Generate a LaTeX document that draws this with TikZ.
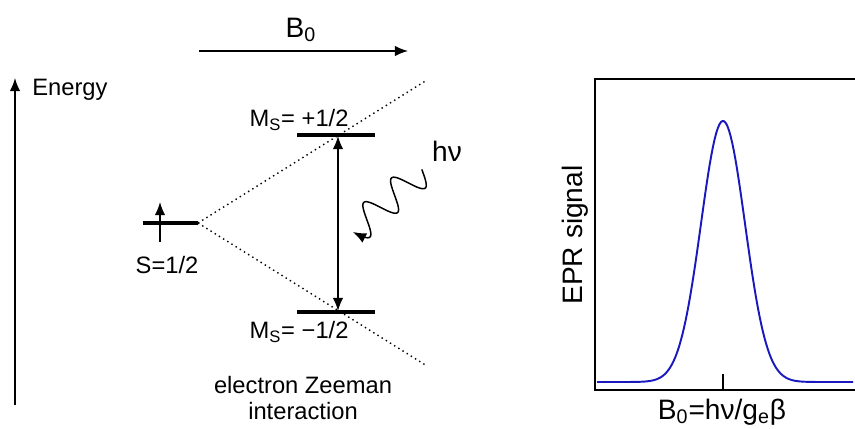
\documentclass[tikz,border=0pt]{standalone}
\usepackage{fontspec}
\setmainfont{Liberation Sans}
\usetikzlibrary{arrows.meta}
\definecolor{eprblue}{RGB}{25,25,190}

\begin{document}
\begin{tikzpicture}[x=0.02cm,y=-0.02cm,>={Latex[length=7.5pt,width=6pt]},
      lvl/.style={line width=2pt},
      ax/.style={line width=0.85pt},
      lbl/.style={inner sep=0pt,font=\fontsize{13.5}{15}\selectfont},
      big/.style={inner sep=0pt,font=\fontsize{16}{18}\selectfont}]
    \useasboundingbox (0,0) rectangle (855,429);
    % --- energy axis and field ---
    \coordinate (ebot) at (15,405); \coordinate (etop) at (15,78);
    \draw[ax,->] (ebot) -- (etop);
    \node[lbl,anchor=west] (energy) at (32,90) {Energy};
    \coordinate (bl) at (199,51); \coordinate (br) at (408,51);
    \draw[ax,->] (bl) -- (br);
    \node[big] (bzero) at (301,30) {B\textsubscript{0}};
    % --- zero field level ---
    \coordinate (s0) at (143,223); \coordinate (split) at (198,223);
    \draw[lvl] (s0) -- (split);
    \coordinate (spb) at (160,242); \coordinate (spt) at (160,202);
    \draw[ax,->] (spb) -- (spt);
    \node[lbl] (spin) at (167,265) {S=1/2};
    % --- Zeeman levels ---
    \coordinate (upl) at (297,135); \coordinate (upr) at (375,135);
    \coordinate (lol) at (297,312); \coordinate (lor) at (375,312);
    \draw[lvl] (upl) -- (upr); \draw[lvl] (lol) -- (lor);
    \coordinate (dup) at (427,80); \coordinate (ddn) at (427,366);
    \draw[dotted,line width=0.8pt] (split) -- (dup);
    \draw[dotted,line width=0.8pt] (split) -- (ddn);
    \node[lbl] (msup) at (299,120) {M\textsubscript{S}= +1/2};
    \node[lbl] (msdn) at (299,332) {M\textsubscript{S}= −1/2};
    \coordinate (tlo) at (338,311); \coordinate (thi) at (338,136);
    \draw[ax,<->] (tlo) -- (thi);
    % photon
    \begin{scope}[shift={(353,232)},rotate=41.5]
      \draw[ax,<-] plot[domain=0:93,samples=90,smooth] (\x,{15*sin(\x/37*360)});
    \end{scope}
    \node[big] (hnu) at (447,151) {hν};
    \node[lbl,align=center] (zeeman) at (303,398) {electron Zeeman\\interaction};
    % --- EPR spectrum ---
    \coordinate (pbl) at (595,390); \coordinate (ptl) at (595,79);
    \coordinate (ptr) at (855,79); \coordinate (pbr) at (855,390);
    \draw[ax] (ptr) -- (ptl) -- (pbl) -- (pbr);
    \coordinate (tk0) at (723,390); \coordinate (tk1) at (723,374);
    \draw[ax] (tk0) -- (tk1);
    \draw[eprblue,line width=1.1pt] plot[domain=597:853,samples=160]
      (\x,{382-261*exp(-0.5*((\x-723)/22)^2)});
    \node[big,rotate=90] (eprsig) at (575,235) {EPR signal};
    \node[big] (bres) at (722,412) {B\textsubscript{0}=hν/g\textsubscript{e}β};
\end{tikzpicture}
\end{document}
